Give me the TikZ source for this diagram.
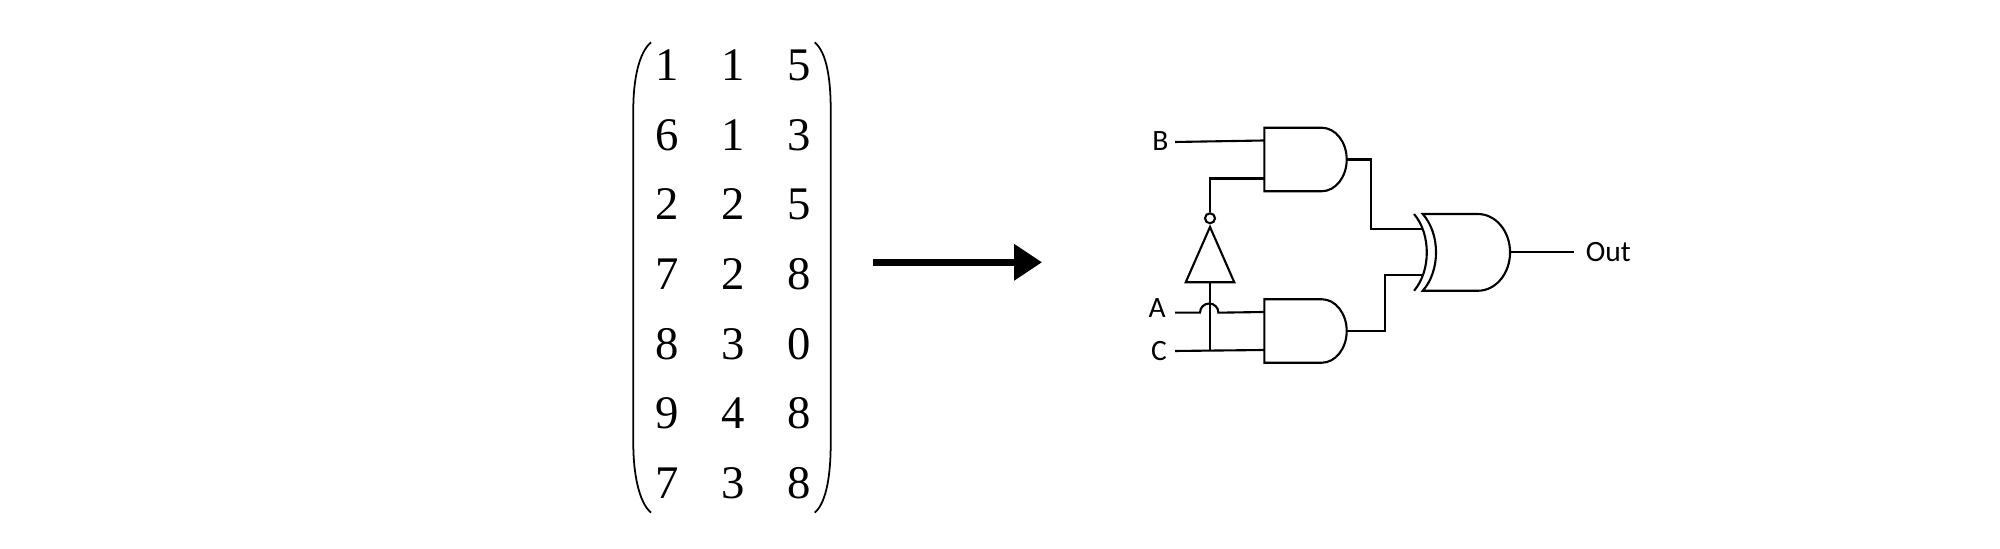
\documentclass[tikz,border=0pt]{standalone}
\usepackage{fontspec}
\setmainfont{Liberation Serif}
\newfontfamily\gatefont{Carlito}
\usetikzlibrary{positioning,matrix,arrows.meta,shapes.geometric}

% Outlines drawn on an empty box node, so that wires can use its anchors.
\newcommand{\andoutline}[1]{
	\draw[wire] (#1.north west) -- ([xshift=0.574cm]#1.north west)
		arc[start angle=90, end angle=-90, x radius=0.25cm, y radius=0.3175cm] -- (#1.south west) -- cycle;
}
\newcommand{\xoroutline}[1]{
	\draw[wire] (#1.north west) -- ([xshift=0.553cm]#1.north west)
		arc[start angle=90, end angle=-90, x radius=0.32cm, y radius=0.3835cm] -- (#1.south west)
		.. controls ([shift={(0.177,0.2)}]#1.south west) and ([shift={(0.177,-0.2)}]#1.north west) .. cycle;
	\draw[wire] ([xshift=-0.087cm]#1.north west)
		.. controls ([shift={(0.083,-0.2)}]#1.north west) and ([shift={(0.083,0.2)}]#1.south west) .. ([xshift=-0.087cm]#1.south west);
}

\begin{document}
\begin{tikzpicture}[
	% Default distance between nodes.
	node distance=0.5cm and 1cm
	]
	% Styles for the table and the circuit.
	\tikzset{
		entry/.style={minimum width=0.66cm, minimum height=0.695cm, inner sep=0pt, font=\fontsize{13.3pt}{16pt}\selectfont},
		paren/.style={line width=0.5pt},
		wire/.style={line width=0.6pt},
		bigarrow/.style={line width=0.067cm, -{Triangle[length=0.28cm, width=0.35cm]}},
		andbox/.style={rectangle, inner sep=0pt, outer sep=0pt, minimum width=0.824cm, minimum height=0.635cm},
		xorbox/.style={rectangle, inner sep=0pt, outer sep=0pt, minimum width=0.873cm, minimum height=0.767cm},
		invbody/.style={isosceles triangle, isosceles triangle apex angle=47.4, shape border rotate=90, draw, line width=0.6pt, inner sep=0pt, minimum height=0.553cm},
		bubble/.style={circle, draw, line width=0.6pt, inner sep=0pt, minimum size=0.1cm},
		signal/.style={inner sep=0pt, font=\gatefont\fontsize{8.4pt}{10pt}\selectfont}
	}
	\useasboundingbox (0,0) rectangle (20,5.49);
	
	% === TABLE ===
	\matrix (data) [matrix of nodes, inner sep=0pt, nodes={entry}] at (7.33,2.75) {
		1 & 1 & 5 \\
		6 & 1 & 3 \\
		2 & 2 & 5 \\
		7 & 2 & 8 \\
		8 & 3 & 0 \\
		9 & 4 & 8 \\
		7 & 3 & 8 \\
	};
	\draw[paren] ([shift={(0.177,-0.13)}]data.north west) .. controls +(-0.12,-0.1) and +(0,0.3) .. ([shift={(0,-0.8)}]data.north west)
		-- ([shift={(0,0.75)}]data.south west) .. controls +(0,-0.3) and +(-0.12,0.1) .. ([shift={(0.177,0.06)}]data.south west);
	\draw[paren] ([shift={(-0.18,-0.13)}]data.north east) .. controls +(0.12,-0.1) and +(0,0.3) .. ([shift={(-0.02,-0.8)}]data.north east)
		-- ([shift={(-0.02,0.75)}]data.south east) .. controls +(0,-0.3) and +(0.12,0.1) .. ([shift={(-0.18,0.06)}]data.south east);
	
	% === ARROW ===
	\coordinate (arrowstart) at (8.73,2.867);
	\coordinate (arrowend) at (10.42,2.867);
	\draw[bigarrow] (arrowstart) -- (arrowend);
	
	% === GATES ===
	\node[andbox] (andtop) at (13.055,3.895) {};
	\node[andbox] (andbot) at (13.055,2.18) {};
	\node[xorbox] (xorout) at (14.664,2.966) {};
	\andoutline{andtop}
	\andoutline{andbot}
	\xoroutline{xorout}
	\node[bubble] (notdot) at (12.10,3.307) {};
	\node[invbody, below=0pt of notdot] (notbody) {};
	
	% === SIGNALS ===
	\coordinate (startB) at (11.75,4.07);
	\coordinate (startA) at (11.75,2.363);
	\coordinate (startC) at (11.75,1.98);
	\node[signal, left=0.06cm of startB, yshift=0.012cm] (labB) {B};
	\node[signal, left=0.085cm of startA, yshift=0.045cm] (labA) {A};
	\node[signal, left=0.075cm of startC] (labC) {C};
	\node[signal, right=0.75cm of xorout.east] (labOut) {Out};
	\coordinate (tapC) at (notbody.south |- startC);
	\coordinate (xorinA) at ([shift={(-0.01,0.233)}]xorout.west);
	\coordinate (xorinB) at ([shift={(-0.01,-0.223)}]xorout.west);
	
	% === CONNECTIONS ===
	\draw[wire] (startB) -- ([yshift=0.19cm]andtop.west);
	\draw[wire] (notdot.north) |- ([yshift=-0.19cm]andtop.west);
	\draw[wire] (notbody.south) -- (tapC);
	\draw[wire] (startC) -- ([yshift=-0.19cm]andbot.west);
	\draw[wire] (startA) -- ++(0.25,0) arc[start angle=180, end angle=0, radius=0.092] -- ([yshift=0.19cm]andbot.west);
	\draw[wire] (andtop.east) -- ++(0.24,0) |- (xorinA);
	\draw[wire] (andbot.east) -- ++(0.386,0) |- (xorinB);
	\draw[wire] (xorout.east) -- ([xshift=-0.11cm]labOut.west);
\end{tikzpicture}
\end{document}
